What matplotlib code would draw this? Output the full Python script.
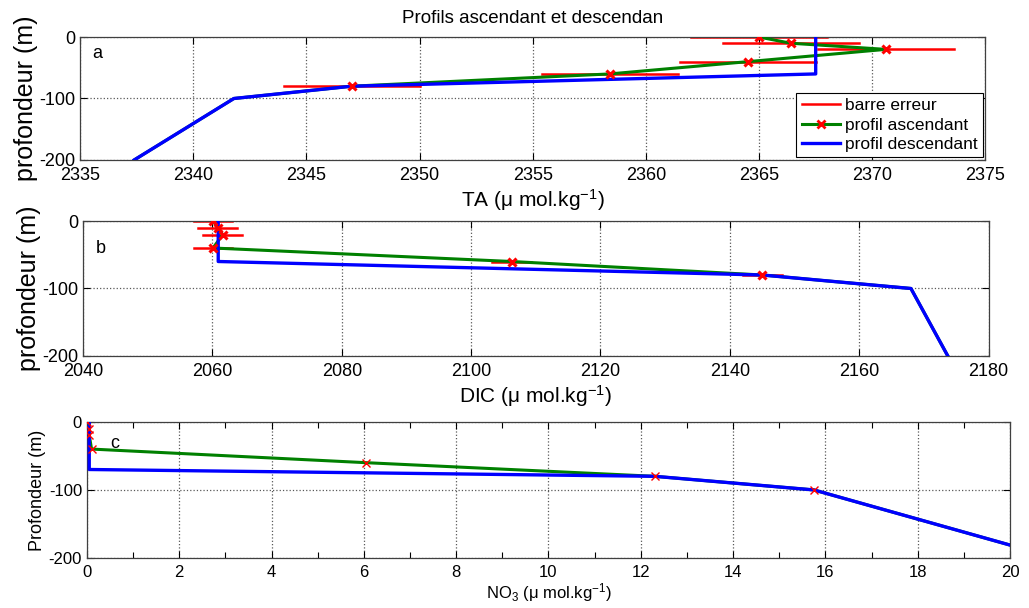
import numpy as np
import matplotlib
matplotlib.use("Agg")
import matplotlib.pyplot as plt
from matplotlib.ticker import MultipleLocator

plt.rcParams['font.family'] = ['Liberation Sans', 'DejaVu Sans']
plt.rcParams['mathtext.fontset'] = 'custom'
plt.rcParams['mathtext.rm'] = 'Liberation Sans'
plt.rcParams['mathtext.it'] = 'Liberation Sans:italic'
plt.rcParams['axes.unicode_minus'] = False

# profondeurs des mesures (profil ascendant)
prof_mes = [0, -10, -20, -40, -60, -80, -100, -200]

# TA
ta_asc = [2365.0, 2366.4, 2370.6, 2364.5, 2358.4, 2347.0, 2341.8, 2337.4]
ta_err = [3, 3, 3, 3, 3, 3]
ta_desc = [2367.5, 2367.5, 2347.0, 2341.8, 2337.4]
prof_desc_ta = [0, -60, -80, -100, -200]

# DIC
dic_asc = [2060.1, 2060.8, 2061.6, 2060.1, 2106.3, 2145.0, 2168.0, 2173.7]
dic_err = [3, 3, 3, 3, 3, 3]
dic_desc = [2060.9, 2060.9, 2145.0, 2168.0, 2173.7]
prof_desc_dic = [0, -60, -80, -100, -200]

# NO3
no3_asc = [0.0, 0.05, 0.05, 0.1, 6.05, 12.3, 15.75, 21.0]
no3_desc = [0.05, 0.05, 12.3, 15.75, 21.0]
prof_desc_no3 = [0, -70, -80, -100, -200]

fig = plt.figure(figsize=(10.29, 6.08), dpi=100)
axa = fig.add_axes([0.0777, 0.737, 0.880, 0.202])
axb = fig.add_axes([0.0807, 0.4145, 0.880, 0.222])
axc = fig.add_axes([0.0845, 0.0822, 0.897, 0.224])

def style(ax, fs):
    ax.grid(True, linestyle=':', color='0.35', linewidth=0.9)
    ax.tick_params(direction='in', top=True, right=True, labelsize=fs, length=5, width=0.8)
    ax.tick_params(axis='x', pad=5)
    ax.tick_params(which='minor', direction='in', top=True, right=True, length=4, width=0.8)
    ax.set_ylim(-200, 0)
    ax.set_yticks([-200, -100, 0])
    for s in ax.spines.values():
        s.set_linewidth(0.9)
        s.set_color('0.25')

def profil(ax, asc, err, desc, pdesc, ms, mew):
    n = len(err)
    if n:
        for v, p, e in zip(asc[:n], prof_mes[:n], err):
            ax.plot([v - e, v + e], [p, p], color='red', lw=1.8, zorder=2)
    ax.plot(asc, prof_mes, color='#008000', lw=2.2, zorder=3)
    ax.plot(desc, pdesc, color='blue', lw=2.4, zorder=4)
    nm = 7 if n == 0 else n
    ax.plot(asc[:nm], prof_mes[:nm], 'x', color='red', ms=ms, mew=mew, zorder=5)

# a
profil(axa, ta_asc, ta_err, ta_desc, prof_desc_ta, 6, 2.2)
axa.set_xlim(2335, 2375)
axa.xaxis.set_major_locator(MultipleLocator(5))
style(axa, 13)
axa.set_ylabel('profondeur (m)', fontsize=18, labelpad=1)
axa.set_xlabel('TA (μ mol.kg$^{-1}$)', fontsize=15, labelpad=2)
axa.text(0.014, 0.87, 'a', transform=axa.transAxes, fontsize=13, va='center')
axa.set_title('Profils ascendant et descendan', fontsize=13.5, pad=10)
h1, = axa.plot([], [], color='red', lw=1.8)
h2, = axa.plot([], [], color='#008000', lw=2.2, marker='x', mec='red', mfc='red', ms=6, mew=2)
h3, = axa.plot([], [], color='blue', lw=2.4)
leg = axa.legend([h1, h2, h3], ['barre erreur', 'profil ascendant', 'profil descendant'],
                 loc='lower right', fontsize=12.5, fancybox=False, edgecolor='black',
                 borderaxespad=0.15, handlelength=2.2, handletextpad=0.3,
                 labelspacing=0.25, borderpad=0.3, framealpha=1)
leg.get_frame().set_linewidth(0.8)

# b
profil(axb, dic_asc, dic_err, dic_desc, prof_desc_dic, 6, 2.2)
axb.set_xlim(2040, 2180)
axb.xaxis.set_major_locator(MultipleLocator(20))
style(axb, 13)
axb.set_ylabel('profondeur (m)', fontsize=18, labelpad=1)
axb.set_xlabel('DIC (μ mol.kg$^{-1}$)', fontsize=15, labelpad=2)
axb.text(0.014, 0.80, 'b', transform=axb.transAxes, fontsize=13, va='center')

# c
profil(axc, no3_asc, [], no3_desc, prof_desc_no3, 6, 1.0)
axc.set_xlim(0, 20)
axc.xaxis.set_major_locator(MultipleLocator(2))
axc.xaxis.set_minor_locator(MultipleLocator(1))
style(axc, 12)
axc.set_ylabel('Profondeur (m)', fontsize=13, labelpad=2)
axc.set_xlabel('NO$_3$ (μ mol.kg$^{-1}$)', fontsize=12, labelpad=1)
axc.text(0.025, 0.84, 'c', transform=axc.transAxes, fontsize=13, va='center')

plt.savefig('out.png', dpi=100)
